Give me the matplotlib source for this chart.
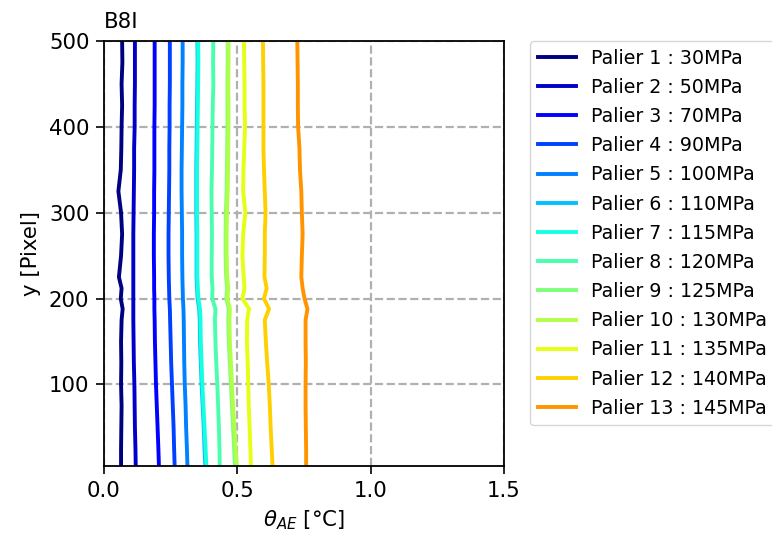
import numpy as np
import matplotlib
matplotlib.use("Agg")
import matplotlib.pyplot as plt

y_pix = [500, 475, 450, 425, 400, 375, 350, 325, 300, 275, 250, 225, 212, 200, 188, 175, 150, 125, 100, 75, 50, 25, 5]

labels = ["Palier 1 : 30MPa", "Palier 2 : 50MPa", "Palier 3 : 70MPa", "Palier 4 : 90MPa",
          "Palier 5 : 100MPa", "Palier 6 : 110MPa", "Palier 7 : 115MPa", "Palier 8 : 120MPa",
          "Palier 9 : 125MPa", "Palier 10 : 130MPa", "Palier 11 : 135MPa", "Palier 12 : 140MPa",
          "Palier 13 : 145MPa"]

p1 = [.068, .069, .066, .068, .066, .065, .063, .054, .064, .068, .064, .056, .066, .063, .070, .066, .064, .065, .064, .066, .065, .064, .064]
p2 = [.116, .116, .116, .115, .115, .113, .113, .112, .111, .110, .110, .110, .110, .110, .110, .110, .111, .112, .114, .115, .116, .118, .119]
p3 = [.190, .190, .190, .190, .189, .189, .189, .188, .188, .187, .187, .188, .188, .189, .189, .190, .191, .193, .195, .198, .201, .204, .206]
p4 = [.247, .247, .247, .246, .246, .245, .245, .244, .243, .242, .242, .243, .244, .245, .247, .248, .250, .252, .255, .258, .261, .263, .265]
p5 = [.295, .295, .294, .294, .293, .292, .291, .291, .292, .293, .293, .294, .295, .296, .298, .299, .300, .301, .303, .306, .308, .311, .313]
p6 = [.350, .351, .350, .349, .348, .347, .346, .346, .346, .347, .347, .347, .349, .351, .357, .359, .360, .363, .366, .370, .374, .377, .380]
p7 = [.353, .354, .353, .352, .351, .350, .349, .349, .349, .350, .350, .350, .352, .354, .360, .362, .363, .366, .369, .373, .377, .381, .384]
p8 = [.410, .409, .410, .408, .407, .406, .405, .403, .404, .405, .404, .404, .407, .406, .418, .416, .418, .421, .425, .428, .431, .433, .434]
p9 = [.464, .464, .463, .463, .463, .462, .461, .460, .457, .456, .456, .458, .462, .459, .468, .466, .468, .472, .476, .480, .484, .488, .491]
p10 = [.467, .467, .466, .467, .467, .466, .465, .464, .461, .460, .460, .462, .466, .463, .472, .470, .472, .476, .480, .484, .489, .494, .498]
p11 = [.525, .526, .527, .527, .529, .526, .523, .522, .530, .522, .519, .524, .527, .519, .544, .537, .536, .539, .541, .543, .546, .549, .551]
p12 = [.596, .597, .598, .598, .598, .598, .600, .603, .606, .603, .603, .602, .610, .600, .619, .603, .607, .612, .618, .622, .625, .629, .632]
p13 = [.725, .726, .727, .727, .728, .733, .735, .740, .742, .745, .742, .740, .745, .752, .763, .756, .756, .757, .756, .756, .757, .758, .758]

series = [p1, p2, p3, p4, p5, p6, p7, p8, p9, p10, p11, p12, p13]

fs = 15.3
fs_leg = 13.7
fig = plt.figure(figsize=(7.72, 5.43), dpi=100)
ax = fig.add_axes([0.1347, 0.1418, 0.6528 - 0.1347, 0.9245 - 0.1418])

cmap = plt.get_cmap("jet")
for i, (vals, lab) in enumerate(zip(series, labels)):
    ax.plot(vals, y_pix, color=cmap(i / 16), lw=2.8, label=lab)

ax.set_xlim(0, 1.5)
ax.set_ylim(5, 500)
ax.set_xticks([0, 0.5, 1.0, 1.5])
ax.set_yticks([100, 200, 300, 400, 500])
ax.grid(True, linestyle="--", color="#b0b0b0", lw=1.6)
ax.tick_params(labelsize=fs, length=5.5, width=1.2, pad=5)
for sp in ax.spines.values():
    sp.set_linewidth(1.3)
ax.set_xlabel(r"$\theta_{AE}$ [°C]", fontsize=fs, labelpad=5.6)
ax.set_ylabel("y [Pixel]", fontsize=fs, labelpad=5.6)
ax.set_title("B8I", loc="left", fontsize=fs, pad=9)

ax.legend(loc="upper left", bbox_to_anchor=(1.065, 1.0), borderaxespad=0,
          fontsize=fs_leg, handlelength=2.0, labelspacing=0.535)

fig.savefig("out.png", dpi=100)
